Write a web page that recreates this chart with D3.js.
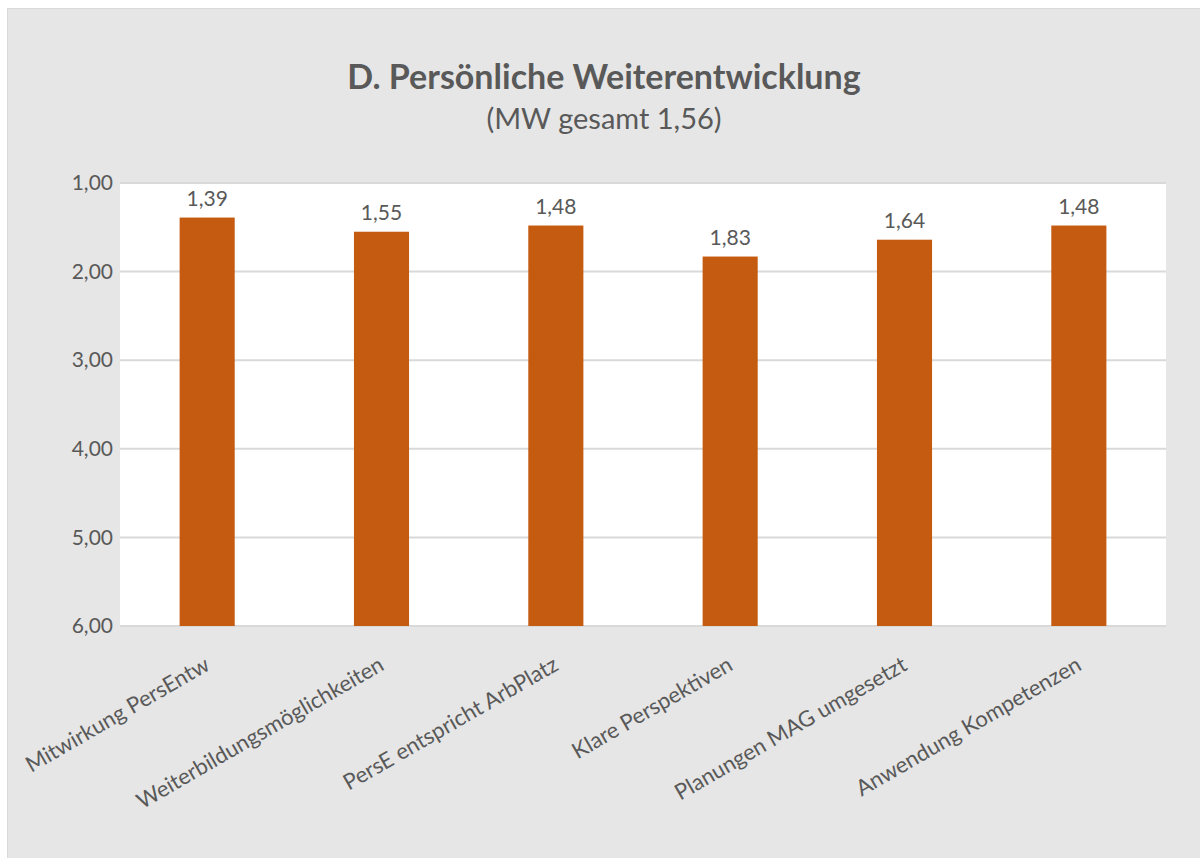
<!DOCTYPE html>
<html>
<head>
<meta charset="utf-8">
<script src="https://cdn.jsdelivr.net/npm/d3@7"></script>
<style>
  body { margin: 0; background: #ffffff; }
  text { font-family: Lato, "Open Sans", sans-serif; fill: #595959; }
</style>
</head>
<body>
<div id="chart"></div>
<script>
var categories = ['Mitwirkung PersEntw', 'Weiterbildungsmöglichkeiten', 'PersE entspricht ArbPlatz',
  'Klare Perspektiven', 'Planungen MAG umgesetzt', 'Anwendung Kompetenzen'];
var values = [1.39, 1.55, 1.48, 1.83, 1.64, 1.48];
var yTicks = [1, 2, 3, 4, 5, 6];
var title = 'D. Persönliche Weiterentwicklung';
var subtitle = '(MW gesamt 1,56)';

var W = 1200, H = 858;
var m = { left: 120, right: 34, top: 183, bottom: 232 };

var svg = d3.select('#chart').append('svg')
  .attr('width', W)
  .attr('height', H);

// chart frame
svg.append('rect')
  .attr('x', 7.5).attr('y', 8.5)
  .attr('width', W).attr('height', H)
  .attr('fill', '#e6e6e6')
  .attr('stroke', '#d9d9d9')
  .attr('stroke-width', 1);

var x = d3.scaleBand()
  .domain(categories)
  .range([m.left, W - m.right])
  .paddingInner(0.684)
  .paddingOuter(0.342);

var y = d3.scaleLinear()
  .domain([1, 6])
  .range([m.top, H - m.bottom]);

var fmt = function(v) { return d3.format('.2f')(v).replace('.', ','); };

// plot area
svg.append('rect')
  .attr('x', m.left).attr('y', m.top)
  .attr('width', W - m.left - m.right)
  .attr('height', y(6) - y(1))
  .attr('fill', '#ffffff');

// gridlines
svg.append('g')
  .selectAll('line')
  .data(yTicks)
  .enter()
  .append('line')
  .attr('x1', m.left).attr('x2', W - m.right)
  .attr('y1', function(d) { return y(d); })
  .attr('y2', function(d) { return y(d); })
  .attr('stroke', '#d9d9d9')
  .attr('stroke-width', 2);

// y axis
var yAxis = svg.append('g')
  .attr('transform', 'translate(' + m.left + ',0)')
  .call(d3.axisLeft(y).tickValues(yTicks).tickFormat(fmt).tickSize(0).tickPadding(7));
yAxis.select('.domain').remove();
yAxis.selectAll('text')
  .style('font-size', '21px')
  .style('font-family', 'Lato, "Open Sans", sans-serif')
  .attr('fill', '#595959');

// bars
svg.append('g')
  .selectAll('rect')
  .data(values)
  .enter()
  .append('rect')
  .attr('x', function(d, i) { return x(categories[i]); })
  .attr('y', function(d) { return y(d); })
  .attr('width', x.bandwidth())
  .attr('height', function(d) { return y(6) - y(d); })
  .attr('fill', '#c55a11');

// value labels
svg.append('g')
  .selectAll('text')
  .data(values)
  .enter()
  .append('text')
  .attr('x', function(d, i) { return x(categories[i]) + x.bandwidth() / 2; })
  .attr('y', function(d) { return y(d) - 12; })
  .attr('text-anchor', 'middle')
  .style('font-size', '21px')
  .text(fmt);

// category labels
svg.append('g')
  .selectAll('text')
  .data(categories)
  .enter()
  .append('text')
  .attr('transform', function(d) {
    return 'translate(' + (x(d) + x.bandwidth() / 2 + 4) + ',' + (y(6) + 43) + ') rotate(-30)';
  })
  .attr('text-anchor', 'end')
  .style('font-size', '22px')
  .text(function(d) { return d; });

// titles
svg.append('text')
  .attr('x', 604).attr('y', 89)
  .attr('text-anchor', 'middle')
  .style('font-size', '34px')
  .style('font-weight', 'bold')
  .text(title);

svg.append('text')
  .attr('x', 604).attr('y', 129)
  .attr('text-anchor', 'middle')
  .style('font-size', '29px')
  .text(subtitle);
</script>
</body>
</html>
